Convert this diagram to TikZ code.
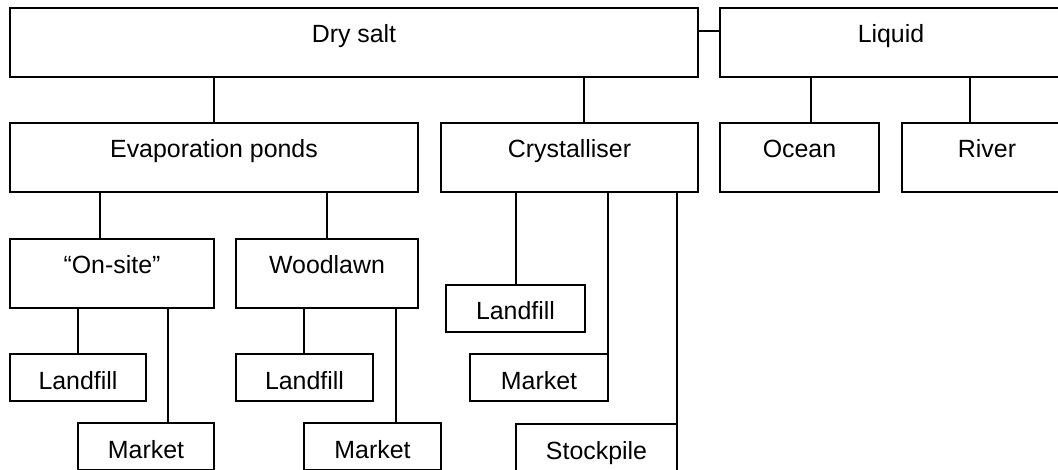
\documentclass[tikz,border=0pt]{standalone}
\usepackage{fontspec}
\setmainfont{Liberation Sans}
\begin{document}
\begin{tikzpicture}[x=1pt,y=-1pt,
  line width=1.1pt,
  bx/.style={draw, anchor=north west, inner sep=0pt, outer sep=0pt,
    font=\fontsize{24.9}{30}\selectfont, text height=35pt},
  tall/.style={bx, minimum height=69pt, text depth=34pt},
  short/.style={bx, minimum height=47pt, text depth=12pt}]
\path[use as bounding box, clip] (0,0) rectangle (1058,470);
% row 1
\node[tall, minimum width=688pt] (ds) at (10,8) {Dry salt};
\node[tall, minimum width=342pt] (lq) at (720,8) {Liquid};
% row 2
\node[tall, minimum width=408pt] (ep) at (10,123) {Evaporation ponds};
\node[tall, minimum width=257pt] (cr) at (441,123) {Crystalliser};
\node[tall, minimum width=159pt] (oc) at (720,123) {Ocean};
\node[tall, minimum width=170pt] (rv) at (902,123) {River};
% row 3
\node[tall, minimum width=204pt] (on) at (10,239) {“On-site”};
\node[tall, minimum width=182pt] (wl) at (236,239) {Woodlawn};
\node[short, minimum width=139pt] (l3) at (446,285) {Landfill};
% row 4
\node[short, minimum width=136pt] (l1) at (10,354) {Landfill};
\node[short, minimum width=137pt] (l2) at (236,354) {Landfill};
\node[short, minimum width=138pt] (m3) at (470,354) {Market};
% row 5
\node[short, minimum width=136pt] (m1) at (78,423) {Market};
\node[short, minimum width=137pt] (m2) at (304,423) {Market};
\node[short, minimum width=161pt] (s3) at (516,424) {Stockpile};
% connector anchors
\coordinate (k0) at ([yshift=-23pt]ds.north east);
\coordinate (kcr) at ([xshift=14.5pt]cr.north);
\coordinate (koc) at ([xshift=11.5pt]oc.north);
\coordinate (krv) at ([xshift=-17pt]rv.north);
\coordinate (kon) at ([xshift=-12pt]on.north);
\coordinate (km1) at ([xshift=22pt]m1.north);
\coordinate (kl2) at ([xshift=-0.5pt]l2.north);
\coordinate (km2) at ([xshift=23.5pt]m2.north);
\coordinate (kl3) at ([xshift=0.5pt]l3.north);
% connectors
\draw (k0) -- (k0 -| lq.west);
\draw (ep.north) -- (ep.north |- ds.south);
\draw (kcr) -- (kcr |- ds.south);
\draw (koc) -- (koc |- lq.south);
\draw (krv) -- (krv |- lq.south);
\draw (kon) -- (kon |- ep.south);
\draw (wl.north) -- (wl.north |- ep.south);
\draw (l1.north) -- (l1.north |- on.south);
\draw (km1) -- (km1 |- on.south);
\draw (kl2) -- (kl2 |- wl.south);
\draw (km2) -- (km2 |- wl.south);
\draw (kl3) -- (kl3 |- cr.south);
\draw (m3.north east) -- (m3.north east |- cr.south);
\draw (s3.north east) -- (s3.north east |- cr.south);
\end{tikzpicture}
\end{document}
